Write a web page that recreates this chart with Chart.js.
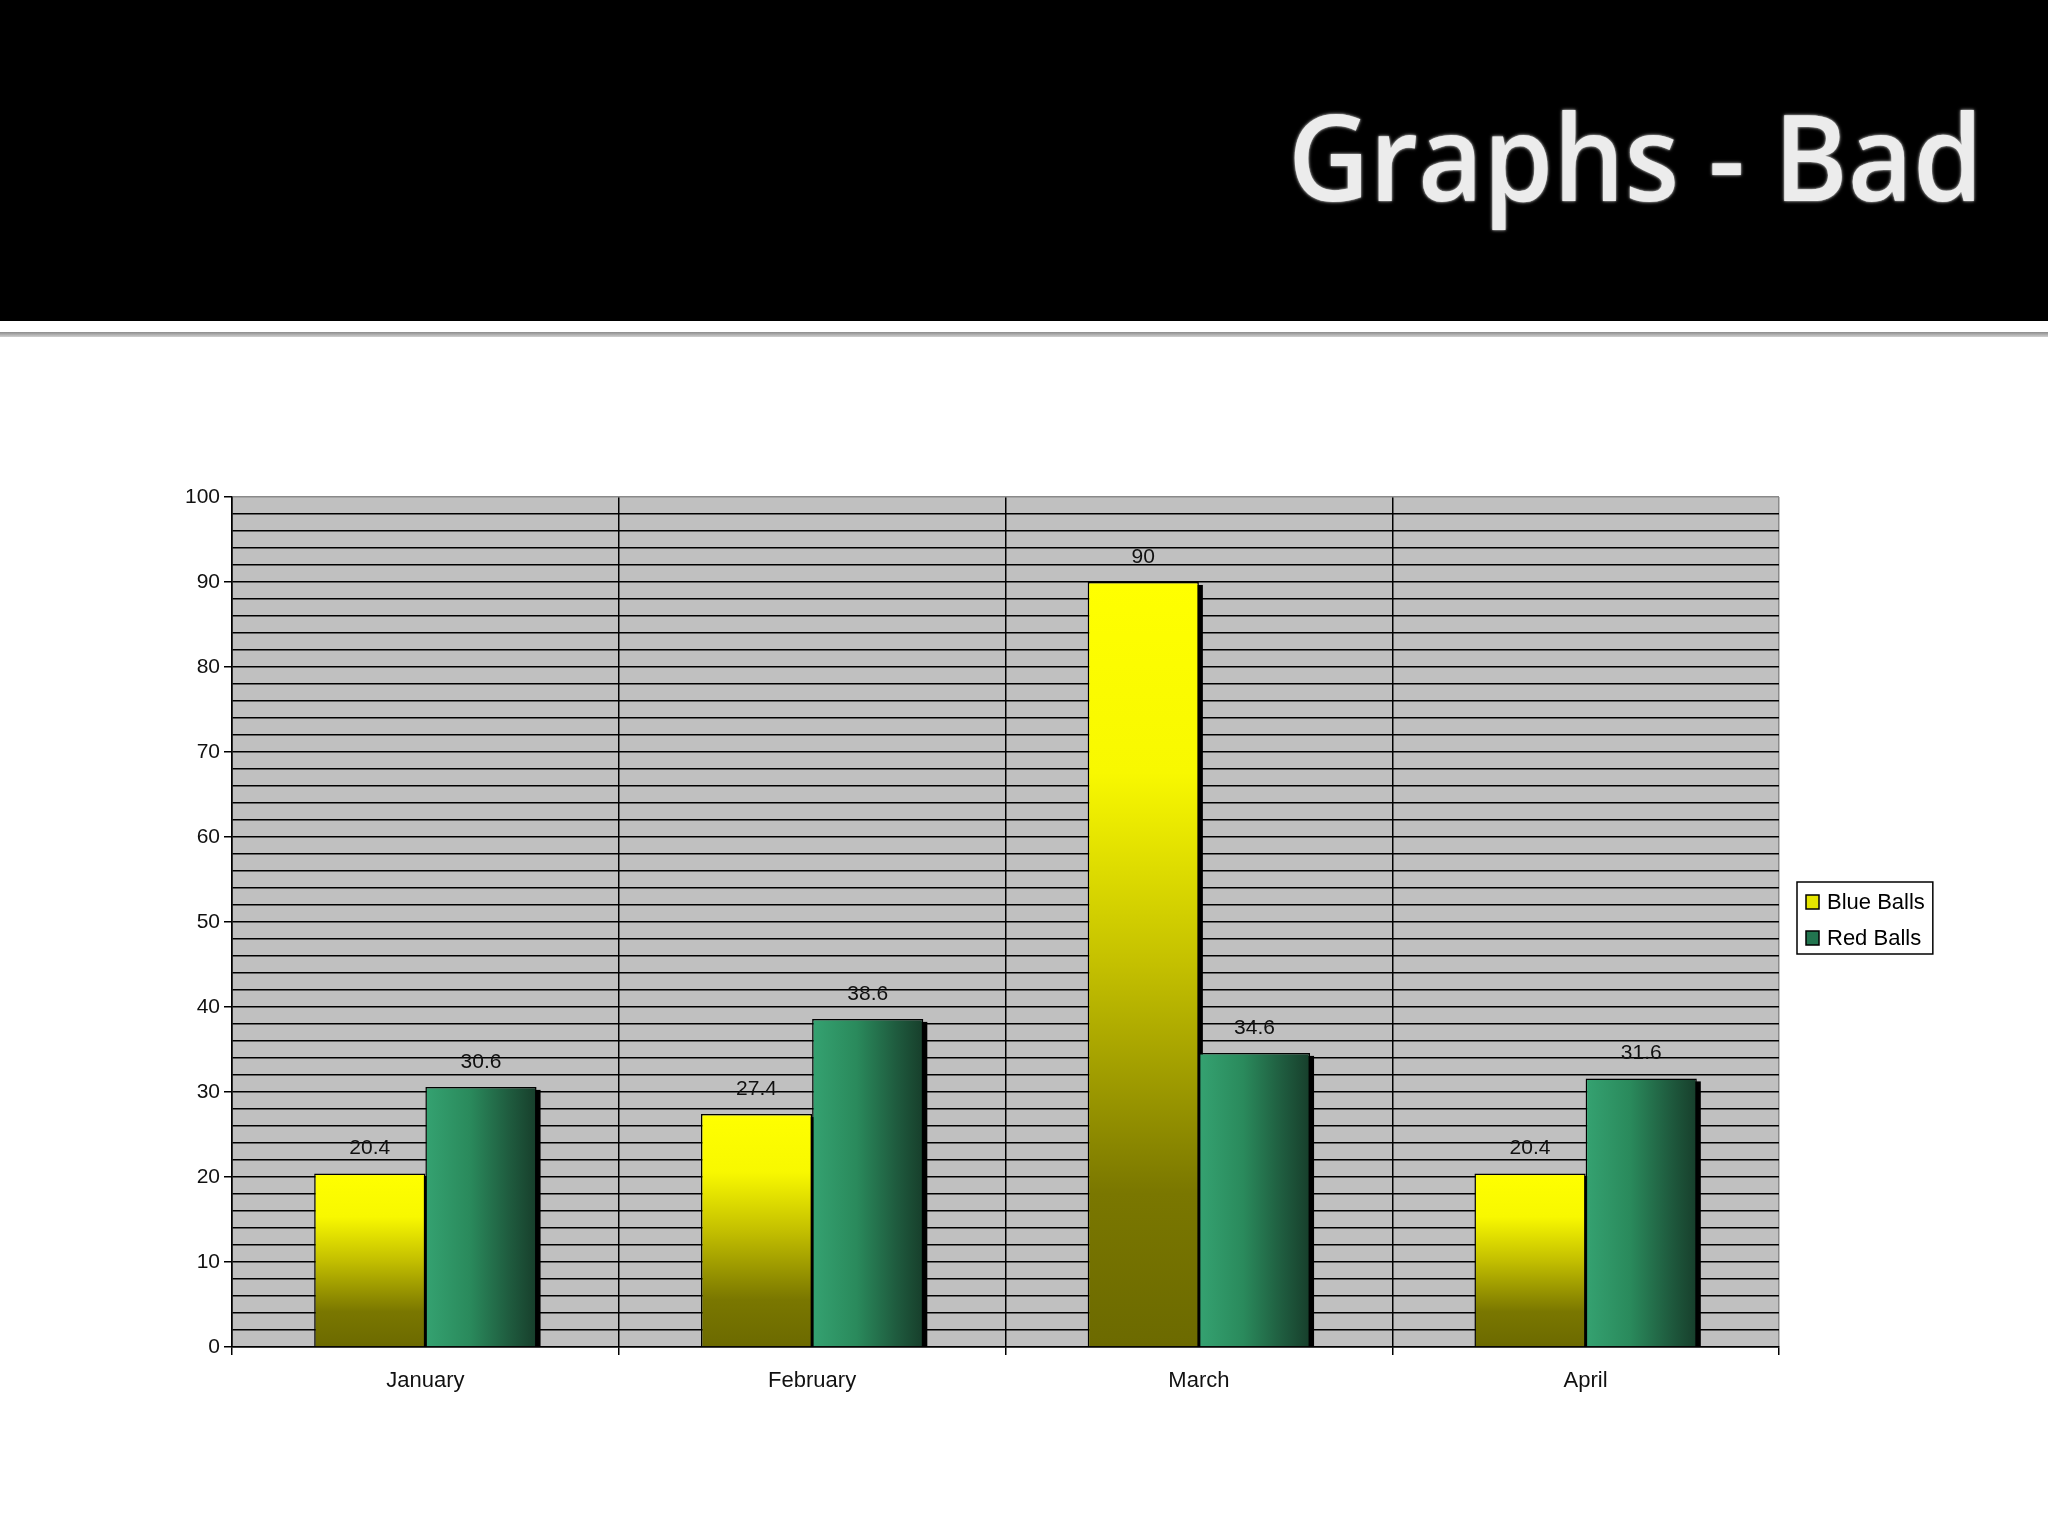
<!DOCTYPE html>
<html>
<head>
<meta charset="utf-8">
<title>Graphs - Bad</title>
<script src="https://cdn.jsdelivr.net/npm/chart.js@4.4.1/dist/chart.umd.min.js"></script>
<style>
  html, body { margin: 0; padding: 0; background: #fff; }
  body { width: 2048px; height: 1536px; position: relative; overflow: hidden; }
  #band { position: absolute; left: 0; top: 0; width: 2048px; height: 321px; background: #000; }
  #rule { position: absolute; left: 0; top: 332px; width: 2048px; height: 5px;
          background: linear-gradient(#8c8c8c, #cfcfcf); }
  #title { position: absolute; left: 1288px; top: 96px; margin: 0;
           font-family: "Open Sans", "Noto Sans", sans-serif; font-weight: 600;
           font-size: 119px; line-height: 1; color: #ececec; white-space: nowrap;
           text-shadow: 0 0 4px #a0a0a0, 0 0 2px #c0c0c0; transform-origin: left top; }
  #wrap { position: absolute; left: 0; top: 340px; width: 2048px; height: 1100px; }
</style>
</head>
<body>
<div id="band"></div>
<div id="rule"></div>
<h1 id="title">Graphs - Bad</h1>
<div id="wrap"><canvas id="chart"></canvas></div>

<script>
// datos
const months = ['January', 'February', 'March', 'April'];
const seriesNames = ['Blue Balls', 'Red Balls'];
const blueBalls = [20.4, 27.4, 90, 20.4];
const redBalls = [30.6, 38.6, 34.6, 31.6];
const yTicks = [0, 10, 20, 30, 40, 50, 60, 70, 80, 90, 100];

const FONT = '"Liberation Sans", Arial, sans-serif';

// ajustar ancho del título (Calibri no está disponible)
const titleEl = document.getElementById('title');
const tw = titleEl.getBoundingClientRect().width;
titleEl.style.transform = 'scaleX(' + (695 / tw) + ')';

// fondo gris del área del gráfico
const plotBackground = {
  id: 'plotBackground',
  beforeDraw(chart) {
    const { ctx, chartArea: a } = chart;
    ctx.save();
    ctx.fillStyle = '#c0c0c0';
    ctx.fillRect(a.left, a.top, a.right - a.left, a.bottom - a.top);
    ctx.restore();
  }
};

// degradados por barra + sombra negra
const barStyle = {
  id: 'barStyle',
  beforeDatasetsDraw(chart) {
    const { ctx, chartArea: a } = chart;
    ctx.save();
    ctx.beginPath();
    ctx.rect(a.left, a.top, a.right - a.left, a.bottom - a.top);
    ctx.clip();
    ctx.fillStyle = '#000';
    chart.data.datasets.forEach((ds, di) => {
      chart.getDatasetMeta(di).data.forEach(el => {
        ctx.fillRect(el.x - el.width / 2 + 4, el.y + 3, el.width, el.base - el.y);
      });
    });
    ctx.restore();

    chart.data.datasets.forEach((ds, di) => {
      chart.getDatasetMeta(di).data.forEach(el => {
        let g;
        if (di === 0) {
          g = ctx.createLinearGradient(0, el.y, 0, el.base);
          g.addColorStop(0, '#ffff00');
          g.addColorStop(0.25, '#f8f800');
          g.addColorStop(0.5, '#c4c000');
          g.addColorStop(0.8, '#7a7700');
          g.addColorStop(1, '#6c6a00');
        } else {
          g = ctx.createLinearGradient(el.x - el.width / 2, 0, el.x + el.width / 2, 0);
          g.addColorStop(0, '#35a271');
          g.addColorStop(0.4, '#2a8a5c');
          g.addColorStop(0.75, '#1f5c3f');
          g.addColorStop(1, '#173e2b');
        }
        el.options = Object.assign({}, el.options, { backgroundColor: g });
      });
    });
  },
  afterDatasetsDraw(chart) {
    // etiquetas de valor sobre las barras
    const { ctx } = chart;
    ctx.save();
    ctx.font = '21px ' + FONT;
    ctx.fillStyle = '#111';
    ctx.textAlign = 'center';
    ctx.textBaseline = 'middle';
    chart.data.datasets.forEach((ds, di) => {
      chart.getDatasetMeta(di).data.forEach((el, i) => {
        ctx.fillText(String(ds.data[i]), el.x, el.y - 25);
      });
    });
    ctx.restore();
  }
};

// leyenda con recuadro a la derecha
const boxLegend = {
  id: 'boxLegend',
  afterDraw(chart) {
    const { ctx, chartArea: a } = chart;
    const swatches = ['#e6e600', '#22754f'];
    ctx.save();
    ctx.font = '22px ' + FONT;
    const textW = Math.max(...chart.data.datasets.map(d => ctx.measureText(d.label).width));
    const w = 9 + 13 + 8 + textW + 8;
    const h = 72;
    const left = a.right + 18;
    const top = (a.top + a.bottom) / 2 - 40;
    ctx.fillStyle = '#fff';
    ctx.fillRect(left, top, w, h);
    ctx.lineWidth = 1.5;
    ctx.strokeStyle = '#000';
    ctx.strokeRect(left, top, w, h);
    chart.data.datasets.forEach((d, i) => {
      const cy = top + 20 + i * 36;
      ctx.fillStyle = swatches[i];
      ctx.fillRect(left + 9, cy - 7, 13, 14);
      ctx.strokeRect(left + 9, cy - 7, 13, 14);
      ctx.fillStyle = '#000';
      ctx.textBaseline = 'middle';
      ctx.fillText(d.label, left + 30, cy + 1);
    });
    ctx.restore();
  }
};

new Chart(document.getElementById('chart'), {
  type: 'bar',
  data: {
    labels: months,
    datasets: [
      { label: seriesNames[0], data: blueBalls, backgroundColor: () => '#ffff00',
        borderColor: '#000', borderWidth: 1.5, barPercentage: 1, categoryPercentage: 0.575 },
      { label: seriesNames[1], data: redBalls, backgroundColor: () => '#2a8a5c',
        borderColor: '#000', borderWidth: 1.5, barPercentage: 1, categoryPercentage: 0.575 }
    ]
  },
  options: {
    responsive: true,
    maintainAspectRatio: false,
    animation: false,
    devicePixelRatio: 1,
    layout: { padding: { left: 172, right: 269, top: 157, bottom: 33 } },
    plugins: {
      legend: { display: false },
      tooltip: { enabled: false }
    },
    scales: {
      x: {
        afterFit: s => { s.height = 60; },
        grid: {
          offset: true,
          color: c => (c.index === undefined ? '#8a8a8a' : '#000'),
          lineWidth: 1.5,
          tickLength: 8,
          tickColor: '#000'
        },
        border: { color: '#000', width: 1.5 },
        ticks: { color: '#111', font: { family: FONT, size: 22 }, padding: 13 }
      },
      y: {
        min: yTicks[0],
        max: yTicks[yTicks.length - 1],
        afterFit: s => { s.width = 60; },
        ticks: {
          stepSize: 2,
          autoSkip: false,
          color: '#111',
          font: { family: FONT, size: 21 },
          padding: 4,
          callback: v => (yTicks.includes(v) ? String(v) : '')
        },
        grid: {
          color: c => (c.tick && c.tick.value === 100 ? '#8a8a8a' : '#000'),
          lineWidth: 1.5,
          tickLength: 8,
          tickColor: c => (c.tick && yTicks.includes(c.tick.value) ? '#000' : 'rgba(0,0,0,0)')
        },
        border: { color: '#000', width: 1.5 }
      }
    }
  },
  plugins: [plotBackground, barStyle, boxLegend]
});
</script>
</body>
</html>
